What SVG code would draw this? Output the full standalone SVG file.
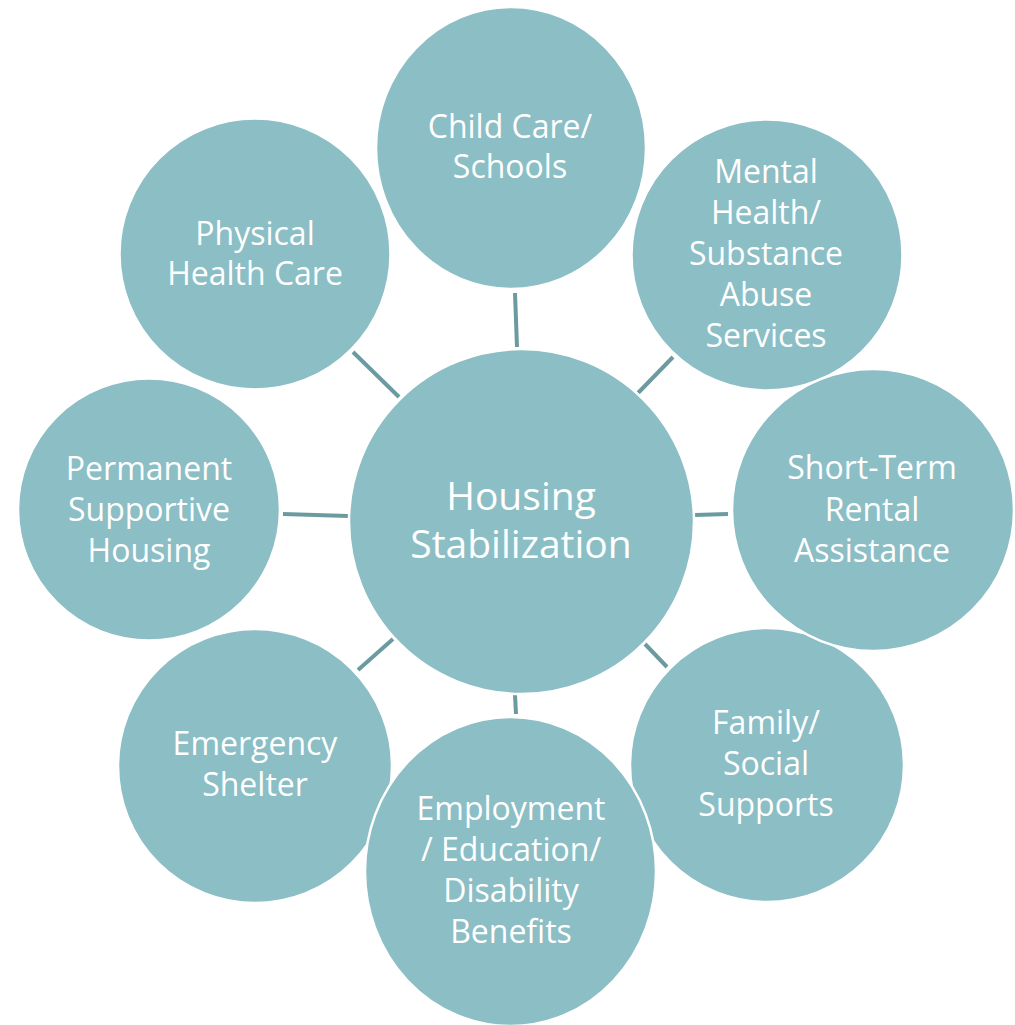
<svg xmlns="http://www.w3.org/2000/svg" width="1015" height="1025" viewBox="0 0 1015 1025">
<style>
.n{fill:#8bbec5;stroke:#ffffff;stroke-width:2.5}
.c{stroke:#6b9ba0;stroke-width:4;fill:none}
.t{font-family:"Open Sans","Liberation Sans",sans-serif;font-size:32px;fill:#ffffff;text-anchor:middle}
.tc{font-size:39px}
</style>
<rect width="1015" height="1025" fill="#ffffff"/>
<g id="connectors">
<line class="c" x1="515" y1="293" x2="517" y2="347"/>
<line class="c" x1="673" y1="357" x2="638" y2="393"/>
<line class="c" x1="353" y1="352" x2="399" y2="397"/>
<line class="c" x1="283" y1="514" x2="348" y2="516"/>
<line class="c" x1="695" y1="515" x2="728" y2="514"/>
<line class="c" x1="515" y1="695" x2="516" y2="714"/>
<line class="c" x1="393" y1="639" x2="358" y2="670"/>
<line class="c" x1="645" y1="644" x2="667" y2="667"/>
</g>
<g id="childcare">
<ellipse class="n" cx="511" cy="148" rx="135" ry="141"/>
<text class="t" x="510" y="138">Child Care/</text>
<text class="t" x="510" y="178">Schools</text>
</g>
<g id="mentalhealth">
<circle class="n" cx="767" cy="255" r="135.5"/>
<text class="t" x="766" y="183">Mental</text>
<text class="t" x="766" y="224">Health/</text>
<text class="t" x="766" y="265">Substance</text>
<text class="t" x="766" y="306">Abuse</text>
<text class="t" x="766" y="347">Services</text>
</g>
<g id="physical">
<circle class="n" cx="255" cy="254" r="135.5"/>
<text class="t" x="255" y="245">Physical</text>
<text class="t" x="255" y="285">Health Care</text>
</g>
<g id="permanent">
<circle class="n" cx="149" cy="509.5" r="131"/>
<text class="t" x="149" y="480">Permanent</text>
<text class="t" x="149" y="521">Supportive</text>
<text class="t" x="149" y="562">Housing</text>
</g>
<g id="emergency">
<circle class="n" cx="255" cy="766" r="137"/>
<text class="t" x="255" y="755">Emergency</text>
<text class="t" x="255" y="796">Shelter</text>
</g>
<g id="family">
<circle class="n" cx="767" cy="765" r="137"/>
<text class="t" x="766" y="734">Family/</text>
<text class="t" x="766" y="775">Social</text>
<text class="t" x="766" y="816">Supports</text>
</g>
<g id="shortterm">
<circle class="n" cx="873" cy="510" r="141"/>
<text class="t" x="872" y="479">Short-Term</text>
<text class="t" x="872" y="521">Rental</text>
<text class="t" x="872" y="562">Assistance</text>
</g>
<g id="employment">
<ellipse class="n" cx="510.5" cy="871.5" rx="145.5" ry="154.5"/>
<text class="t" x="511" y="820">Employment</text>
<text class="t" x="511" y="861">/ Education/</text>
<text class="t" x="511" y="902">Disability</text>
<text class="t" x="511" y="943">Benefits</text>
</g>
<g id="center">
<circle class="n" cx="521.5" cy="521.5" r="172.5"/>
<text class="t tc" x="521" y="510">Housing</text>
<text class="t tc" x="521" y="558">Stabilization</text>
</g>
</svg>
